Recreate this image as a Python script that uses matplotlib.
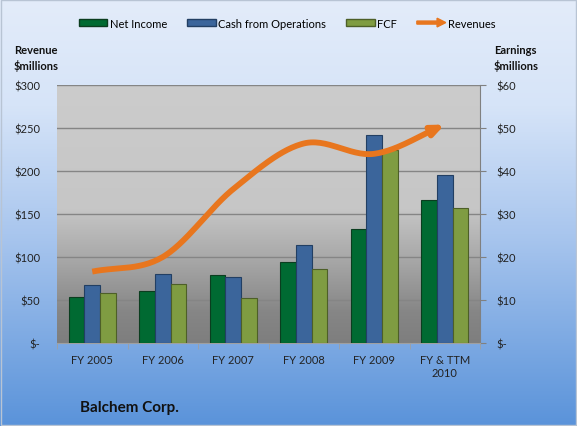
import numpy as np
import matplotlib
matplotlib.use("Agg")
import matplotlib.pyplot as plt
import matplotlib.patches as mpatches
from matplotlib.legend_handler import HandlerPatch
from matplotlib.colors import LinearSegmentedColormap

plt.rcParams['font.family'] = ['Lato', 'DejaVu Sans']

categories = ["FY 2005", "FY 2006", "FY 2007", "FY 2008", "FY 2009", "FY & TTM\n2010"]
net_income = [10.7, 12.1, 15.9, 18.9, 26.6, 33.2]
cash_ops = [13.6, 16.1, 15.4, 22.8, 48.3, 39.1]
fcf = [11.6, 13.8, 10.5, 17.3, 44.8, 31.4]
revenues = [83, 100, 179, 232, 220, 254]
left_ticks = [0, 50, 100, 150, 200, 250, 300]
left_labels = ["$-", "$50", "$100", "$150", "$200", "$250", "$300"]
right_ticks = [0, 10, 20, 30, 40, 50, 60]
right_labels = ["$-", "$10", "$20", "$30", "$40", "$50", "$60"]

c_green = "#006a32"
c_blue = "#3b659b"
c_fcf = "#7f9c42"
c_orange = "#e8761e"

fig = plt.figure(figsize=(5.77, 4.27), dpi=100)

# figure background gradient
bg = fig.add_axes([0, 0, 1, 1], zorder=-10)
bg.axis("off")
cmap_bg = LinearSegmentedColormap.from_list("bg", [(0, "#5a93da"), (0.45, "#a9c6ee"), (0.75, "#d6e4f8"), (1, "#e3ecfa")])
grad = np.linspace(0, 1, 256).reshape(-1, 1)
bg.imshow(grad, aspect="auto", cmap=cmap_bg, origin="lower", extent=[0, 1, 0, 1])
bg.set_xlim(0, 1); bg.set_ylim(0, 1)
bg.add_patch(mpatches.Rectangle((0.002, 0.002), 0.996, 0.996, fill=False, edgecolor="#b8c4d4", lw=1))

pos = [57 / 577, 1 - 344 / 427, (480 - 57) / 577, (344 - 86) / 427]
ax = fig.add_axes(pos)
ax2 = ax.twinx()

# plot area gradient
cmap_pa = LinearSegmentedColormap.from_list("pa", [(0, "#7e7e7e"), (0.12, "#868686"), (0.3, "#a4a4a4"), (0.52, "#c6c6c6"), (1, "#cccccc")])
ax.imshow(grad, aspect="auto", cmap=cmap_pa, origin="lower", extent=[0, 1, 0, 1],
          transform=ax.transAxes, zorder=0)

x = np.arange(len(categories))
w = 0.22
ax.bar(x - w, net_income, w, color=c_green, edgecolor="#0b3d1f", lw=0.8, zorder=3)
ax.bar(x, cash_ops, w, color=c_blue, edgecolor="#223f63", lw=0.8, zorder=3)
ax.bar(x + w, fcf, w, color=c_fcf, edgecolor="#4d5f28", lw=0.8, zorder=3)

ax.set_xlim(-0.5, len(categories) - 0.5)
ax.set_ylim(0, 60)
ax.set_yticks(right_ticks)
ax.set_yticklabels(right_labels)
ax.yaxis.tick_right()
ax.tick_params(axis="y", which="both", right=True, left=False, length=4, color="#808080",
               labelsize=8, pad=8, labelcolor="#222222")
for t in right_ticks[1:]:
    ax.axhline(t, color="#858585", lw=1, zorder=1)
ax.set_xticks(np.arange(len(categories) + 1) - 0.5, minor=True)
ax.set_xticks(x)
ax.set_xticklabels(categories)
ax.tick_params(axis="x", which="major", length=0, labelsize=8, pad=8, labelcolor="#222222")
ax.tick_params(axis="x", which="minor", length=4, color="#a0a0a0")
for s in ["top", "left"]:
    ax.spines[s].set_visible(False)
ax.spines["right"].set_color("#808080")
ax.spines["bottom"].set_color("#a0a0a0")

# revenue line (smoothed, Catmull-Rom through the data points)
px = x.astype(float)
py = np.array(revenues, dtype=float)
P = np.column_stack([px, py])
Pe = np.vstack([2 * P[0] - P[1], P, 2 * P[-1] - P[-2]])
curve = []
for i in range(1, len(Pe) - 2):
    p0, p1, p2, p3 = Pe[i - 1], Pe[i], Pe[i + 1], Pe[i + 2]
    for t in np.linspace(0, 1, 30, endpoint=False):
        t2, t3 = t * t, t * t * t
        pt = 0.5 * ((2 * p1) + (-p0 + p2) * t + (2 * p0 - 5 * p1 + 4 * p2 - p3) * t2 + (-p0 + 3 * p1 - 3 * p2 + p3) * t3)
        curve.append(pt)
curve.append(P[-1])
curve = np.array(curve)

ax2.set_ylim(0, 300)
ax2.plot(curve[:-5, 0], curve[:-5, 1], color=c_orange, lw=4.2, solid_capstyle="butt", zorder=5)
ax2.annotate("", xy=(curve[-1, 0], curve[-1, 1]), xytext=(curve[-6, 0], curve[-6, 1]),
             arrowprops=dict(arrowstyle="-|>,head_length=0.7,head_width=0.3", color=c_orange,
                             lw=4.2, shrinkA=0, shrinkB=0, mutation_scale=10), zorder=6)
ax2.yaxis.tick_left()
ax2.set_yticks(left_ticks)
ax2.set_yticklabels(left_labels)
ax2.tick_params(axis="y", length=0, labelsize=8, pad=12, labelcolor="#222222")
for s in ax2.spines.values():
    s.set_visible(False)

# axis headers
fig.text(14 / 577, 1 - 50 / 427, "Revenue", fontsize=8, fontweight="bold", ha="left", va="center", color="#111111")
fig.text(14 / 577, 1 - 66 / 427, "$millions", fontsize=8, fontweight="bold", ha="left", va="center", color="#111111")
fig.text(494 / 577, 1 - 50 / 427, "Earnings", fontsize=8, fontweight="bold", ha="left", va="center", color="#111111")
fig.text(494 / 577, 1 - 66 / 427, "$millions", fontsize=8, fontweight="bold", ha="left", va="center", color="#111111")

fig.text(80 / 577, 1 - 408 / 427, "Balchem Corp.", fontsize=11, fontweight="bold", ha="left", va="center", color="#111111")

# legend
class HandlerArrow(HandlerPatch):
    def create_artists(self, legend, orig_handle, xdescent, ydescent, width, height, fontsize, trans):
        a = mpatches.FancyArrow(-xdescent, height / 2 - ydescent, width, 0, width=height * 0.45,
                                head_width=height * 1.3, head_length=width * 0.3,
                                length_includes_head=True, color=c_orange)
        a.set_transform(trans)
        return [a]

handles = [mpatches.Patch(facecolor=c_green, edgecolor="#0b3d1f"),
           mpatches.Patch(facecolor=c_blue, edgecolor="#223f63"),
           mpatches.Patch(facecolor=c_fcf, edgecolor="#4d5f28"),
           mpatches.FancyArrow(0, 0, 1, 0)]
labels = ["Net Income", "Cash from Operations", "FCF", "Revenues"]
fig.legend(handles, labels, loc="center", bbox_to_anchor=(287 / 577, 1 - 24 / 427), ncol=4,
           frameon=False, fontsize=8, handlelength=2.6, handleheight=0.55, handletextpad=0.2,
           columnspacing=1.8, handler_map={mpatches.FancyArrow: HandlerArrow()})

fig.savefig("out.png", dpi=100)
